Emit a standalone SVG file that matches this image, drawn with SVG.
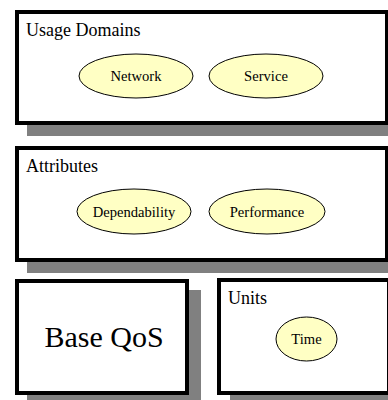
<svg xmlns="http://www.w3.org/2000/svg" width="388" height="400" viewBox="0 0 388 400">
<style>
.shadow{fill:#808080;stroke:none}
.box{fill:#ffffff;stroke:#000000;stroke-width:4}
.ell{fill:#ffffc4;stroke:#000000;stroke-width:1}
text{font-family:'Liberation Serif','Times New Roman','DejaVu Serif',serif;fill:#000000}
.title{font-size:18px}
.lbl{font-size:14.6px;text-anchor:middle}
.big{font-size:30px;text-anchor:middle}
</style>
<rect width="388" height="400" fill="#ffffff"/>
<g font-family="Liberation Serif, serif">
<g id="usage-domains">
<rect class="shadow" x="27" y="21" width="374" height="115"/>
<rect class="box" x="17" y="12" width="370" height="111"/>
<text class="title" x="26" y="36">Usage Domains</text>
</g>
<g id="network">
<ellipse class="ell" cx="136" cy="76" rx="57" ry="22"/>
<text class="lbl" x="136" y="81">Network</text>
</g>
<g id="service">
<ellipse class="ell" cx="266" cy="76" rx="57" ry="22"/>
<text class="lbl" x="266" y="81">Service</text>
</g>
<g id="attributes">
<rect class="shadow" x="27" y="157" width="374" height="116"/>
<rect class="box" x="17" y="148" width="370" height="112"/>
<text class="title" x="26" y="172">Attributes</text>
</g>
<g id="dependability">
<ellipse class="ell" cx="134" cy="211.5" rx="57" ry="22.5"/>
<text class="lbl" x="134" y="216.5">Dependability</text>
</g>
<g id="performance">
<ellipse class="ell" cx="267" cy="211.5" rx="58" ry="22.5"/>
<text class="lbl" x="267" y="216.5">Performance</text>
</g>
<g id="base-qos">
<rect class="shadow" x="27" y="290" width="174" height="116"/>
<rect class="box" x="17" y="281" width="170" height="112"/>
<text class="big" x="104" y="347">Base QoS</text>
</g>
<g id="units">
<rect class="shadow" x="230" y="290" width="172" height="116"/>
<rect class="box" x="219" y="280" width="170" height="113"/>
<text class="title" x="228" y="304">Units</text>
</g>
<g id="time">
<ellipse class="ell" cx="306.5" cy="339" rx="30.5" ry="22"/>
<text class="lbl" x="306.5" y="344">Time</text>
</g>
</g>
<g id="connectors"></g>
</svg>
